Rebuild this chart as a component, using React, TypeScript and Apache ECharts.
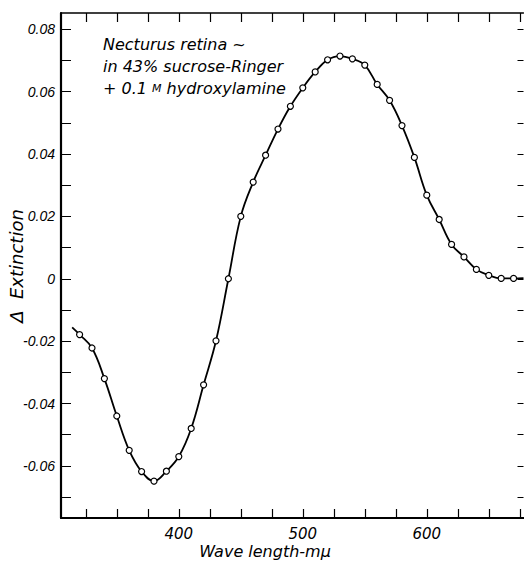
import React, { useEffect, useRef } from "react";
import * as echarts from "echarts";

const wavelengths = [320, 330, 340, 350, 360, 370, 380, 390, 400, 410, 420, 430, 440, 450, 460, 470, 480, 490, 500, 510, 520, 530, 540, 550, 560, 570, 580, 590, 600, 610, 620, 630, 640, 650, 660, 670];
const extinction = [-0.0179, -0.0222, -0.032, -0.044, -0.055, -0.0618, -0.0649, -0.0617, -0.057, -0.048, -0.034, -0.0199, 0.0, 0.02, 0.031, 0.0396, 0.048, 0.0553, 0.0612, 0.0663, 0.0702, 0.0714, 0.0705, 0.0685, 0.0623, 0.0572, 0.0491, 0.0389, 0.0268, 0.019, 0.011, 0.007, 0.003, 0.0011, 0.0001, 0.0001];
const curveStart = [314, -0.0156];
const curveEnd = [678, 0.0002];

const xTicks = [325, 350, 375, 400, 425, 450, 475, 500, 525, 550, 575, 600, 625, 650, 675];
const xLabels = [400, 500, 600];
const yTicks = [-0.07, -0.06, -0.05, -0.04, -0.03, -0.02, -0.01, 0, 0.01, 0.02, 0.03, 0.04, 0.05, 0.06, 0.07, 0.08];
const yLabels = [-0.06, -0.04, -0.02, 0, 0.02, 0.04, 0.06, 0.08];

const annotationLines = ["Necturus retina ~", "in 43% sucrose-Ringer", "+ 0.1 {s|M} hydroxylamine"];
const xName = "Wave length-mμ";
const yName = "Δ  Extinction";

export default function App() {
  const ref = useRef<HTMLDivElement>(null);
  useEffect(() => {
    if (!ref.current) return;
    const chart = echarts.init(ref.current, null, { renderer: "svg" });
    const points = wavelengths.map((w, i) => [w, extinction[i]]);
    const lineData = [curveStart, ...points, curveEnd];
    const font = "DejaVu Sans";
    chart.setOption({
      animation: false,
      backgroundColor: "#fff",
      grid: { left: 61, right: 0.5, top: 13, bottom: 45 },
      xAxis: [
        {
          type: "value",
          min: 305,
          max: 678,
          position: "bottom",
          axisLine: { show: true, onZero: false, lineStyle: { color: "#000", width: 2.2 } },
          axisTick: { show: true, inside: true, length: 9, customValues: xTicks, lineStyle: { color: "#000", width: 1.2 } },
          axisLabel: {
            customValues: xLabels,
            color: "#000",
            fontFamily: font,
            fontStyle: "italic",
            fontSize: 15,
            margin: 8,
          },
          splitLine: { show: false },
        },
        {
          type: "value",
          min: 305,
          max: 678,
          position: "top",
          axisLine: { show: true, onZero: false, lineStyle: { color: "#000", width: 1.5 } },
          axisTick: { show: true, inside: true, length: 9, customValues: xTicks, lineStyle: { color: "#000", width: 1.2 } },
          axisLabel: { show: false },
          splitLine: { show: false },
        },
      ],
      yAxis: [
        {
          type: "value",
          min: -0.0767,
          max: 0.0852,
          position: "left",
          axisLine: { show: true, onZero: false, lineStyle: { color: "#000", width: 2.2 } },
          axisTick: { show: true, inside: true, length: 10, customValues: yTicks, lineStyle: { color: "#000", width: 1 } },
          axisLabel: {
            customValues: yLabels,
            formatter: (v: number) => (Math.abs(v) < 1e-9 ? "0" : v.toFixed(2)),
            color: "#000",
            fontFamily: "Liberation Sans",
            fontStyle: "italic",
            fontSize: 14,
            margin: 6,
          },
          splitLine: { show: false },
        },
        {
          type: "value",
          min: -0.0767,
          max: 0.0852,
          position: "right",
          axisLine: { show: false, onZero: false },
          axisTick: { show: true, inside: true, length: 6, customValues: yTicks, lineStyle: { color: "#000", width: 1 } },
          axisLabel: { show: false },
          splitLine: { show: false },
        },
      ],
      graphic: [
        ...annotationLines.map((t, i) => ({
          type: "text",
          left: 103,
          top: 36 + i * 22,
          style: {
            text: t,
            fill: "#000",
            font: `italic 16px "${font}"`,
            rich: { s: { fontSize: 11, fontFamily: font, fontStyle: "italic", fill: "#000" } },
          },
        })),
        {
          type: "text",
          x: 265,
          y: 551,
          style: {
            text: xName,
            fill: "#000",
            font: `italic 16px "${font}"`,
            textAlign: "center",
            textVerticalAlign: "middle",
          },
        },
        {
          type: "text",
          x: 16,
          y: 266,
          rotation: Math.PI / 2,
          style: {
            text: yName,
            fill: "#000",
            font: `italic 18px "${font}"`,
            textAlign: "center",
            textVerticalAlign: "middle",
          },
        },
      ],
      series: [
        {
          type: "line",
          xAxisIndex: 0,
          yAxisIndex: 0,
          data: lineData,
          smooth: 0.4,
          showSymbol: false,
          lineStyle: { color: "#000", width: 1.8 },
          silent: true,
          z: 2,
        },
        {
          type: "scatter",
          xAxisIndex: 0,
          yAxisIndex: 0,
          data: points,
          symbol: "circle",
          symbolSize: 6,
          itemStyle: { color: "#fff", borderColor: "#000", borderWidth: 1.2, opacity: 1 },
          z: 3,
        },
      ],
    });
    return () => chart.dispose();
  }, []);
  return <div ref={ref} style={{ position: "absolute", left: 0, top: 0, width: 524, height: 563 }} />;
}
